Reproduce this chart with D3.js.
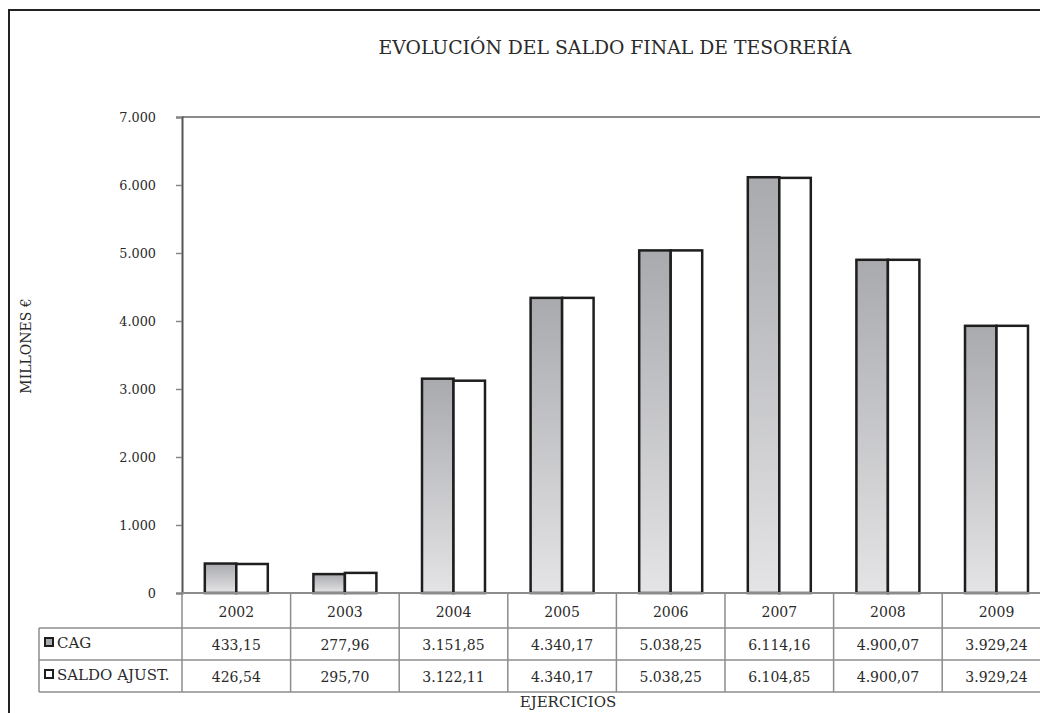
<!DOCTYPE html>
<html><head><meta charset="utf-8">
<script src="https://cdn.jsdelivr.net/npm/d3@7"></script>
<style>
html,body{margin:0;padding:0;background:#fff;overflow:hidden;}
svg text{font-family:"DejaVu Serif",serif !important;fill:#2a2a2a;}
</style></head>
<body>
<svg id="c" width="1040" height="713"></svg>
<script>
const title = "EVOLUCIÓN DEL SALDO FINAL DE TESORERÍA";
const years = ["2002","2003","2004","2005","2006","2007","2008","2009"];
const seriesNames = ["CAG","SALDO AJUST."];
const cag = [433.15, 277.96, 3151.85, 4340.17, 5038.25, 6114.16, 4900.07, 3929.24];
const saldo = [426.54, 295.70, 3122.11, 4340.17, 5038.25, 6104.85, 4900.07, 3929.24];
const yTicks = [0,1000,2000,3000,4000,5000,6000,7000];
const yTitle = "MILLONES €";
const xTitle = "EJERCICIOS";

(function(){
const FONT = "'DejaVu Serif', serif";
const svg = d3.select("#c").attr("font-family", FONT);
const defs = svg.append("defs");
const g1 = defs.append("linearGradient").attr("id","gCag").attr("x1",0).attr("y1",0).attr("x2",0).attr("y2",1);
g1.append("stop").attr("offset","0%").attr("stop-color","#a9aaae");
g1.append("stop").attr("offset","100%").attr("stop-color","#e4e4e6");

svg.append("rect").attr("x",9).attr("y",10).attr("width",1200).attr("height",900)
  .attr("fill","none").attr("stroke","#222").attr("stroke-width",2);

const pLeft = 182, pTop = 117, pBottom = 593, step = 108.6;
const x = d3.scaleBand().domain(years).range([pLeft, pLeft + step*years.length]).padding(0);
const y = d3.scaleLinear().domain([0,7000]).range([pBottom, pTop]);
const groupW = x.bandwidth()*0.58;
const xs = d3.scaleBand().domain(seriesNames).range([0, groupW]).padding(0);

svg.append("text").attr("x",615).attr("y",54).attr("text-anchor","middle")
  .style("font-size","18.8px").text(title);

svg.append("line").attr("x1",pLeft).attr("x2",1100).attr("y1",pTop).attr("y2",pTop)
  .attr("stroke","#8a8a8a").attr("stroke-width",2);

const yAxis = svg.append("g").attr("transform",`translate(${pLeft},0)`)
  .call(d3.axisLeft(y).tickValues(yTicks).tickSize(6).tickPadding(20)
    .tickFormat(d => d3.format(",")(d).replace(/,/g,".")));
yAxis.select(".domain").attr("stroke","#555").attr("stroke-width",2);
yAxis.selectAll(".tick line").attr("stroke","#888").attr("stroke-width",1.5);
yAxis.selectAll(".tick text").style("font-size","12.8px").attr("fill","#2a2a2a");

const data = years.map((yr,i)=>({yr, vals:[{s:"CAG",v:cag[i]},{s:"SALDO AJUST.",v:saldo[i]}]}));
const grp = svg.append("g").selectAll("g").data(data).join("g")
  .attr("transform", d => `translate(${x(d.yr) + (x.bandwidth()-groupW)/2},0)`);
grp.selectAll("rect").data(d=>d.vals).join("rect")
  .attr("x", d => xs(d.s)).attr("width", xs.bandwidth())
  .attr("y", d => y(d.v)).attr("height", d => pBottom - y(d.v))
  .attr("fill", d => d.s==="CAG" ? "url(#gCag)" : "#fff")
  .attr("stroke","#1e1e1e").attr("stroke-width",2.5);

const tcol = "#8c8c8c";
const tbl = svg.append("g");
tbl.append("line").attr("x1",pLeft).attr("x2",1100).attr("y1",pBottom).attr("y2",pBottom).attr("stroke",tcol).attr("stroke-width",2);
[628,660,692].forEach(yy=>{
  tbl.append("line").attr("x1",39).attr("x2",1100).attr("y1",yy).attr("y2",yy).attr("stroke",tcol).attr("stroke-width",1.5);
});
years.forEach(yr=>{
  tbl.append("line").attr("x1",x(yr)).attr("x2",x(yr)).attr("y1",pBottom).attr("y2",692).attr("stroke",tcol).attr("stroke-width",1.5);
});
tbl.append("line").attr("x1",x.range()[1]).attr("x2",x.range()[1]).attr("y1",pBottom).attr("y2",692).attr("stroke",tcol).attr("stroke-width",1.5);
tbl.append("line").attr("x1",39).attr("x2",39).attr("y1",628).attr("y2",692).attr("stroke",tcol).attr("stroke-width",1.5);

const fmt = v => {
  const s = d3.format(",.2f")(v);
  return s.replace(/,/g,"#").replace(/\./g,",").replace(/#/g,".");
};
years.forEach((yr,i)=>{
  const cx = x(yr) + x.bandwidth()/2;
  tbl.append("text").attr("x",cx).attr("y",617).attr("text-anchor","middle").style("font-size","14px").text(yr);
  tbl.append("text").attr("x",cx).attr("y",650).attr("text-anchor","middle").style("font-size","14px").text(fmt(cag[i]));
  tbl.append("text").attr("x",cx).attr("y",682).attr("text-anchor","middle").style("font-size","14px").text(fmt(saldo[i]));
});
seriesNames.forEach((s,i)=>{
  const ry = [638,670][i];
  tbl.append("rect").attr("x",45).attr("y",ry).attr("width",8).attr("height",8)
    .attr("fill", i===0 ? "#a9aaae" : "#fff").attr("stroke","#1e1e1e").attr("stroke-width",2);
  tbl.append("text").attr("x",57).attr("y",ry+10).style("font-size","15px").text(s);
});

svg.append("text").attr("transform","translate(31,346) rotate(-90)").attr("text-anchor","middle")
  .style("font-size","14px").text(yTitle);
svg.append("text").attr("x",568).attr("y",707).attr("text-anchor","middle")
  .style("font-size","15px").text(xTitle);
})();
</script>
</body></html>
